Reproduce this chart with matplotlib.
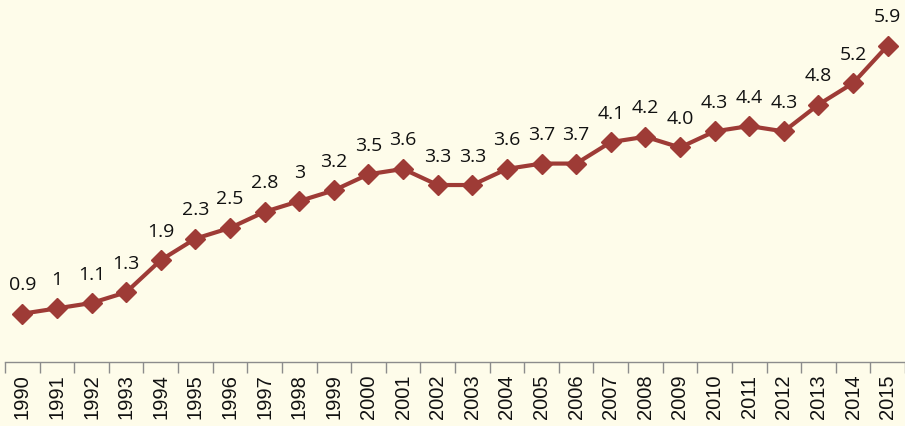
import matplotlib
matplotlib.use("Agg")
import matplotlib.pyplot as plt
from matplotlib.ticker import FixedLocator

years = [str(y) for y in range(1990, 2016)]
values = [0.9, 1.0, 1.1, 1.3, 1.9, 2.3, 2.5, 2.8, 3.0, 3.2, 3.5, 3.6, 3.3, 3.3,
          3.6, 3.7, 3.7, 4.1, 4.2, 4.0, 4.3, 4.4, 4.3, 4.8, 5.2, 5.9]
labels = ["0.9", "1", "1.1", "1.3", "1.9", "2.3", "2.5", "2.8", "3", "3.2", "3.5", "3.6",
          "3.3", "3.3", "3.6", "3.7", "3.7", "4.1", "4.2", "4.0", "4.3", "4.4", "4.3",
          "4.8", "5.2", "5.9"]

bg = "#FEFCEA"
line_color = "#9E3B36"

plt.rcParams['font.family'] = ['Open Sans', 'DejaVu Sans']

fig = plt.figure(figsize=(9.05, 4.26), dpi=100, facecolor=bg)
ax = fig.add_axes([5/905, 64/426, 900/905, 362/426])
ax.set_facecolor(bg)

x = list(range(len(years)))
ax.plot(x, values, color=line_color, lw=3, marker='D', markersize=10,
        markerfacecolor=line_color, markeredgecolor=line_color, zorder=3)

for xi, v, lab in zip(x, values, labels):
    ax.annotate(lab, (xi, v), xytext=(0, 20.5), textcoords='offset points',
                ha='center', va='center', fontsize=14, color='#111111')

ax.set_xlim(-0.5, len(years) - 0.5)
ax.set_ylim(0, 6.75)
ax.set_xticks(x)
ax.set_xticklabels(years, rotation=90, fontsize=14.5, color='#111111',
                   family=['Liberation Sans', 'DejaVu Sans'])
ax.tick_params(axis='x', which='major', length=0, pad=9)
ax.xaxis.set_minor_locator(FixedLocator([i - 0.5 for i in range(len(years) + 1)]))
ax.tick_params(axis='x', which='minor', length=8, color='#8c8c8c', width=1)
ax.set_yticks([])
for s in ['top', 'right', 'left']:
    ax.spines[s].set_visible(False)
ax.spines['bottom'].set_color('#8c8c8c')
ax.spines['bottom'].set_linewidth(1)

fig.savefig("out.png", dpi=100, facecolor=bg)
